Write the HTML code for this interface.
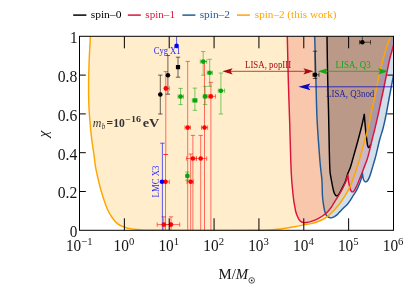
<!DOCTYPE html>
<html><head><meta charset="utf-8"><title>chart</title>
<style>html,body{margin:0;padding:0;background:#fff;}body{width:411px;height:288px;overflow:hidden;position:relative;font-family:"Liberation Serif",serif;}</style>
</head><body>
<svg width="411" height="288" viewBox="0 0 411 288" style="position:absolute;left:0;top:0;will-change:transform;font-family:'Liberation Serif',serif">
<defs><clipPath id="cp"><rect x="79.50" y="36.30" width="314.00" height="194.00"/></clipPath></defs>
<rect width="411" height="288" fill="#fff"/>
<g clip-path="url(#cp)">
<path d="M327.00,36.30 C327.12,43.58 327.45,67.72 327.70,80.00 C327.95,92.28 328.23,98.33 328.50,110.00 C328.77,121.67 329.07,140.00 329.30,150.00 C329.53,160.00 329.65,165.52 329.90,170.00 C330.15,174.48 330.49,174.90 330.80,176.90 C331.11,178.90 331.45,180.37 331.75,182.00 C332.05,183.63 332.26,185.08 332.60,186.70 C332.94,188.32 333.38,190.38 333.80,191.70 C334.22,193.02 334.63,193.90 335.10,194.60 C335.57,195.30 336.07,195.85 336.60,195.90 C337.13,195.95 337.75,195.47 338.30,194.90 C338.85,194.33 339.25,193.63 339.90,192.50 C340.55,191.37 341.40,189.67 342.20,188.10 C343.00,186.53 344.03,184.60 344.70,183.10 C345.37,181.60 345.72,180.62 346.20,179.10 C346.68,177.58 346.88,176.02 347.60,174.00 C348.32,171.98 349.40,170.33 350.50,167.00 C351.60,163.67 352.93,158.50 354.20,154.00 C355.47,149.50 356.92,144.37 358.10,140.00 C359.28,135.63 360.48,131.05 361.30,127.80 C362.12,124.55 362.50,122.82 363.00,120.50 C363.50,118.18 364.08,115.00 364.30,113.90 C364.42,115.52 364.70,120.13 365.00,123.60 C365.30,127.07 365.80,131.97 366.10,134.70 C366.40,137.43 366.57,138.28 366.80,140.00 C367.03,141.72 367.22,143.73 367.50,145.00 C367.78,146.27 368.12,147.35 368.50,147.60 C368.88,147.85 369.42,147.07 369.80,146.50 C370.18,145.93 370.43,145.28 370.80,144.20 C371.17,143.12 371.28,142.73 372.00,140.00 C372.72,137.27 374.05,132.15 375.10,127.80 C376.15,123.45 377.33,118.28 378.30,113.90 C379.27,109.52 380.05,105.48 380.90,101.50 C381.75,97.52 382.52,94.25 383.40,90.00 C384.28,85.75 385.40,80.00 386.20,76.00 C387.00,72.00 387.57,69.03 388.20,66.00 C388.83,62.97 389.37,60.33 390.00,57.80 C390.63,55.27 391.42,52.88 392.00,50.80 C392.58,48.72 393.25,46.22 393.50,45.30 L393.50,36.30 L327.00,36.30 Z" fill="#000" fill-opacity="0.2"/>
<path d="M287.30,36.30 C287.47,43.58 287.92,66.05 288.30,80.00 C288.68,93.95 289.18,106.38 289.60,120.00 C290.02,133.62 290.45,151.70 290.80,161.70 C291.15,171.70 291.32,174.45 291.70,180.00 C292.08,185.55 292.76,191.57 293.10,195.00 C293.44,198.43 293.48,198.75 293.75,200.60 C294.02,202.45 294.36,204.25 294.70,206.10 C295.04,207.95 295.38,210.08 295.80,211.70 C296.22,213.32 296.68,214.53 297.20,215.80 C297.72,217.07 298.25,218.32 298.90,219.30 C299.55,220.28 300.33,221.15 301.10,221.70 C301.87,222.25 302.64,222.47 303.50,222.60 C304.36,222.73 305.07,222.67 306.25,222.50 C307.43,222.33 308.96,222.08 310.60,221.60 C312.24,221.12 314.25,220.45 316.10,219.60 C317.95,218.75 319.85,217.73 321.70,216.50 C323.55,215.27 325.57,213.78 327.20,212.20 C328.83,210.62 330.53,208.32 331.50,207.00 C332.47,205.68 332.20,205.60 333.00,204.30 C333.80,203.00 335.18,200.96 336.30,199.20 C337.42,197.44 338.65,195.57 339.70,193.75 C340.75,191.93 341.70,190.04 342.60,188.30 C343.50,186.56 344.43,184.75 345.10,183.30 C345.77,181.85 346.13,181.08 346.60,179.60 C347.07,178.12 347.68,175.27 347.90,174.40 C348.00,175.47 348.18,178.62 348.50,180.80 C348.82,182.98 349.43,185.90 349.80,187.50 C350.17,189.10 350.27,189.67 350.70,190.40 C351.13,191.13 351.78,191.92 352.40,191.90 C353.02,191.88 353.67,191.33 354.40,190.30 C355.13,189.27 356.05,187.28 356.80,185.70 C357.55,184.12 358.13,182.65 358.90,180.80 C359.67,178.95 360.59,176.68 361.40,174.60 C362.21,172.52 362.83,170.73 363.75,168.30 C364.67,165.87 366.07,162.40 366.90,160.00 C367.72,157.60 367.85,157.23 368.70,153.90 C369.55,150.57 370.93,144.35 372.00,140.00 C373.07,135.65 374.05,132.15 375.10,127.80 C376.15,123.45 377.33,118.28 378.30,113.90 C379.27,109.52 380.05,105.48 380.90,101.50 C381.75,97.52 382.52,94.25 383.40,90.00 C384.28,85.75 385.40,80.00 386.20,76.00 C387.00,72.00 387.57,69.03 388.20,66.00 C388.83,62.97 389.37,60.33 390.00,57.80 C390.63,55.27 391.42,52.88 392.00,50.80 C392.58,48.72 393.25,46.22 393.50,45.30 L393.50,36.30 L287.30,36.30 Z" fill="#dc143c" fill-opacity="0.2"/>
<path d="M314.70,36.30 C314.90,43.58 315.50,66.05 315.90,80.00 C316.30,93.95 316.42,106.38 317.10,120.00 C317.78,133.62 319.20,151.70 320.00,161.70 C320.80,171.70 321.50,174.45 321.90,180.00 C322.30,185.55 322.20,191.35 322.40,195.00 C322.60,198.65 322.80,199.58 323.10,201.90 C323.40,204.22 323.75,206.82 324.20,208.90 C324.65,210.98 325.18,213.07 325.80,214.40 C326.42,215.73 327.08,216.32 327.90,216.90 C328.72,217.48 329.77,217.85 330.70,217.90 C331.63,217.95 332.47,217.70 333.50,217.20 C334.53,216.70 335.75,215.90 336.90,214.90 C338.05,213.90 339.22,212.43 340.40,211.20 C341.58,209.97 342.80,208.70 344.00,207.50 C345.20,206.30 346.52,205.25 347.60,204.00 C348.68,202.75 349.55,201.43 350.50,200.00 C351.45,198.57 352.25,197.08 353.30,195.40 C354.35,193.72 355.75,191.87 356.80,189.90 C357.85,187.93 358.83,185.57 359.60,183.60 C360.37,181.63 360.93,179.90 361.40,178.10 C361.87,176.30 362.23,173.68 362.40,172.80 C362.52,173.68 362.77,176.72 363.10,178.10 C363.43,179.48 363.95,180.47 364.40,181.10 C364.85,181.73 365.28,181.95 365.80,181.90 C366.32,181.85 366.92,181.55 367.50,180.80 C368.08,180.05 368.68,178.90 369.30,177.40 C369.92,175.90 370.58,173.77 371.20,171.80 C371.82,169.83 372.42,167.57 373.00,165.60 C373.58,163.63 374.15,161.95 374.70,160.00 C375.25,158.05 375.48,157.23 376.30,153.90 C377.12,150.57 378.45,144.35 379.60,140.00 C380.75,135.65 382.09,132.15 383.20,127.80 C384.31,123.45 385.32,118.53 386.25,113.90 C387.18,109.27 387.97,104.48 388.80,100.00 C389.63,95.52 390.47,91.13 391.25,87.00 C392.03,82.87 393.12,77.17 393.50,75.20 L393.50,36.30 L314.70,36.30 Z" fill="#1e5a96" fill-opacity="0.2"/>
<path d="M90.40,36.30 C90.20,40.25 89.50,52.05 89.20,60.00 C88.90,67.95 88.63,76.00 88.60,84.00 C88.57,92.00 88.55,99.40 89.00,108.00 C89.45,116.60 90.47,127.77 91.30,135.60 C92.13,143.43 93.32,149.92 94.00,155.00 C94.68,160.08 94.78,162.40 95.40,166.10 C96.02,169.80 96.87,173.50 97.70,177.20 C98.53,180.90 99.38,184.60 100.40,188.30 C101.42,192.00 102.63,195.92 103.80,199.40 C104.97,202.88 106.02,206.18 107.40,209.20 C108.78,212.22 110.38,215.05 112.10,217.50 C113.82,219.95 115.62,222.28 117.70,223.90 C119.78,225.52 122.28,226.37 124.60,227.20 C126.92,228.03 129.05,228.47 131.60,228.90 C134.15,229.33 135.83,229.57 139.90,229.80 C143.97,230.03 145.98,230.20 156.00,230.30 C166.02,230.40 182.67,230.42 200.00,230.40 C217.33,230.38 247.50,230.35 260.00,230.20 C272.50,230.05 271.35,229.73 275.00,229.50 C278.65,229.27 279.58,229.08 281.90,228.80 C284.22,228.52 286.58,228.18 288.90,227.80 C291.22,227.42 293.48,226.95 295.80,226.50 C298.12,226.05 300.33,225.58 302.80,225.10 C305.27,224.62 308.38,224.08 310.60,223.60 C312.82,223.12 314.25,222.80 316.10,222.20 C317.95,221.60 319.85,220.93 321.70,220.00 C323.55,219.07 325.35,218.00 327.20,216.60 C329.05,215.20 330.80,213.67 332.80,211.60 C334.80,209.53 337.57,206.23 339.20,204.20 C340.83,202.17 341.48,201.05 342.60,199.40 C343.72,197.75 344.87,196.00 345.90,194.30 C346.93,192.60 347.93,190.92 348.80,189.20 C349.67,187.48 350.30,185.97 351.10,184.00 C351.90,182.03 352.82,179.57 353.60,177.40 C354.38,175.23 355.10,173.08 355.80,171.00 C356.50,168.92 357.20,166.73 357.80,164.90 C358.40,163.07 358.87,161.83 359.40,160.00 C359.93,158.17 360.10,157.23 361.00,153.90 C361.90,150.57 363.60,144.35 364.80,140.00 C366.00,135.65 367.17,132.15 368.20,127.80 C369.23,123.45 370.07,118.28 371.00,113.90 C371.93,109.52 372.93,105.48 373.80,101.50 C374.67,97.52 375.33,94.25 376.20,90.00 C377.07,85.75 377.98,80.67 379.00,76.00 C380.02,71.33 381.17,66.33 382.30,62.00 C383.43,57.67 384.92,53.00 385.80,50.00 C386.68,47.00 386.90,46.07 387.60,44.00 C388.30,41.93 389.50,38.88 390.00,37.60 C390.50,36.32 390.50,36.52 390.60,36.30 L90.40,36.30 Z" fill="#ffa500" fill-opacity="0.2"/>
<path d="M327.00,36.30 C327.12,43.58 327.45,67.72 327.70,80.00 C327.95,92.28 328.23,98.33 328.50,110.00 C328.77,121.67 329.07,140.00 329.30,150.00 C329.53,160.00 329.65,165.52 329.90,170.00 C330.15,174.48 330.49,174.90 330.80,176.90 C331.11,178.90 331.45,180.37 331.75,182.00 C332.05,183.63 332.26,185.08 332.60,186.70 C332.94,188.32 333.38,190.38 333.80,191.70 C334.22,193.02 334.63,193.90 335.10,194.60 C335.57,195.30 336.07,195.85 336.60,195.90 C337.13,195.95 337.75,195.47 338.30,194.90 C338.85,194.33 339.25,193.63 339.90,192.50 C340.55,191.37 341.40,189.67 342.20,188.10 C343.00,186.53 344.03,184.60 344.70,183.10 C345.37,181.60 345.72,180.62 346.20,179.10 C346.68,177.58 346.88,176.02 347.60,174.00 C348.32,171.98 349.40,170.33 350.50,167.00 C351.60,163.67 352.93,158.50 354.20,154.00 C355.47,149.50 356.92,144.37 358.10,140.00 C359.28,135.63 360.48,131.05 361.30,127.80 C362.12,124.55 362.50,122.82 363.00,120.50 C363.50,118.18 364.08,115.00 364.30,113.90 C364.42,115.52 364.70,120.13 365.00,123.60 C365.30,127.07 365.80,131.97 366.10,134.70 C366.40,137.43 366.57,138.28 366.80,140.00 C367.03,141.72 367.22,143.73 367.50,145.00 C367.78,146.27 368.12,147.35 368.50,147.60 C368.88,147.85 369.42,147.07 369.80,146.50 C370.18,145.93 370.63,144.58 370.80,144.20 " fill="none" stroke="#000" stroke-width="1.45"/>
<path d="M287.30,36.30 C287.47,43.58 287.92,66.05 288.30,80.00 C288.68,93.95 289.18,106.38 289.60,120.00 C290.02,133.62 290.45,151.70 290.80,161.70 C291.15,171.70 291.32,174.45 291.70,180.00 C292.08,185.55 292.76,191.57 293.10,195.00 C293.44,198.43 293.48,198.75 293.75,200.60 C294.02,202.45 294.36,204.25 294.70,206.10 C295.04,207.95 295.38,210.08 295.80,211.70 C296.22,213.32 296.68,214.53 297.20,215.80 C297.72,217.07 298.25,218.32 298.90,219.30 C299.55,220.28 300.33,221.15 301.10,221.70 C301.87,222.25 302.64,222.47 303.50,222.60 C304.36,222.73 305.07,222.67 306.25,222.50 C307.43,222.33 308.96,222.08 310.60,221.60 C312.24,221.12 314.25,220.45 316.10,219.60 C317.95,218.75 319.85,217.73 321.70,216.50 C323.55,215.27 325.57,213.78 327.20,212.20 C328.83,210.62 330.53,208.32 331.50,207.00 C332.47,205.68 332.20,205.60 333.00,204.30 C333.80,203.00 335.18,200.96 336.30,199.20 C337.42,197.44 338.65,195.57 339.70,193.75 C340.75,191.93 341.70,190.04 342.60,188.30 C343.50,186.56 344.43,184.75 345.10,183.30 C345.77,181.85 346.13,181.08 346.60,179.60 C347.07,178.12 347.68,175.27 347.90,174.40 C348.00,175.47 348.18,178.62 348.50,180.80 C348.82,182.98 349.43,185.90 349.80,187.50 C350.17,189.10 350.27,189.67 350.70,190.40 C351.13,191.13 351.78,191.92 352.40,191.90 C353.02,191.88 353.67,191.33 354.40,190.30 C355.13,189.27 356.05,187.28 356.80,185.70 C357.55,184.12 358.13,182.65 358.90,180.80 C359.67,178.95 360.59,176.68 361.40,174.60 C362.21,172.52 362.83,170.73 363.75,168.30 C364.67,165.87 366.07,162.40 366.90,160.00 C367.72,157.60 367.85,157.23 368.70,153.90 C369.55,150.57 370.93,144.35 372.00,140.00 C373.07,135.65 374.05,132.15 375.10,127.80 C376.15,123.45 377.33,118.28 378.30,113.90 C379.27,109.52 380.05,105.48 380.90,101.50 C381.75,97.52 382.52,94.25 383.40,90.00 C384.28,85.75 385.40,80.00 386.20,76.00 C387.00,72.00 387.57,69.03 388.20,66.00 C388.83,62.97 389.37,60.33 390.00,57.80 C390.63,55.27 391.42,52.88 392.00,50.80 C392.58,48.72 393.25,46.22 393.50,45.30 " fill="none" stroke="#dc143c" stroke-width="1.45"/>
<path d="M314.70,36.30 C314.90,43.58 315.50,66.05 315.90,80.00 C316.30,93.95 316.42,106.38 317.10,120.00 C317.78,133.62 319.20,151.70 320.00,161.70 C320.80,171.70 321.50,174.45 321.90,180.00 C322.30,185.55 322.20,191.35 322.40,195.00 C322.60,198.65 322.80,199.58 323.10,201.90 C323.40,204.22 323.75,206.82 324.20,208.90 C324.65,210.98 325.18,213.07 325.80,214.40 C326.42,215.73 327.08,216.32 327.90,216.90 C328.72,217.48 329.77,217.85 330.70,217.90 C331.63,217.95 332.47,217.70 333.50,217.20 C334.53,216.70 335.75,215.90 336.90,214.90 C338.05,213.90 339.22,212.43 340.40,211.20 C341.58,209.97 342.80,208.70 344.00,207.50 C345.20,206.30 346.52,205.25 347.60,204.00 C348.68,202.75 349.55,201.43 350.50,200.00 C351.45,198.57 352.25,197.08 353.30,195.40 C354.35,193.72 355.75,191.87 356.80,189.90 C357.85,187.93 358.83,185.57 359.60,183.60 C360.37,181.63 360.93,179.90 361.40,178.10 C361.87,176.30 362.23,173.68 362.40,172.80 C362.52,173.68 362.77,176.72 363.10,178.10 C363.43,179.48 363.95,180.47 364.40,181.10 C364.85,181.73 365.28,181.95 365.80,181.90 C366.32,181.85 366.92,181.55 367.50,180.80 C368.08,180.05 368.68,178.90 369.30,177.40 C369.92,175.90 370.58,173.77 371.20,171.80 C371.82,169.83 372.42,167.57 373.00,165.60 C373.58,163.63 374.15,161.95 374.70,160.00 C375.25,158.05 375.48,157.23 376.30,153.90 C377.12,150.57 378.45,144.35 379.60,140.00 C380.75,135.65 382.09,132.15 383.20,127.80 C384.31,123.45 385.32,118.53 386.25,113.90 C387.18,109.27 387.97,104.48 388.80,100.00 C389.63,95.52 390.47,91.13 391.25,87.00 C392.03,82.87 393.12,77.17 393.50,75.20 " fill="none" stroke="#1e5a96" stroke-width="1.45"/>
<path d="M90.40,36.30 C90.20,40.25 89.50,52.05 89.20,60.00 C88.90,67.95 88.63,76.00 88.60,84.00 C88.57,92.00 88.55,99.40 89.00,108.00 C89.45,116.60 90.47,127.77 91.30,135.60 C92.13,143.43 93.32,149.92 94.00,155.00 C94.68,160.08 94.78,162.40 95.40,166.10 C96.02,169.80 96.87,173.50 97.70,177.20 C98.53,180.90 99.38,184.60 100.40,188.30 C101.42,192.00 102.63,195.92 103.80,199.40 C104.97,202.88 106.02,206.18 107.40,209.20 C108.78,212.22 110.38,215.05 112.10,217.50 C113.82,219.95 115.62,222.28 117.70,223.90 C119.78,225.52 122.28,226.37 124.60,227.20 C126.92,228.03 129.05,228.47 131.60,228.90 C134.15,229.33 135.83,229.57 139.90,229.80 C143.97,230.03 145.98,230.20 156.00,230.30 C166.02,230.40 182.67,230.42 200.00,230.40 C217.33,230.38 247.50,230.35 260.00,230.20 C272.50,230.05 271.35,229.73 275.00,229.50 C278.65,229.27 279.58,229.08 281.90,228.80 C284.22,228.52 286.58,228.18 288.90,227.80 C291.22,227.42 293.48,226.95 295.80,226.50 C298.12,226.05 300.33,225.58 302.80,225.10 C305.27,224.62 308.38,224.08 310.60,223.60 C312.82,223.12 314.25,222.80 316.10,222.20 C317.95,221.60 319.85,220.93 321.70,220.00 C323.55,219.07 325.35,218.00 327.20,216.60 C329.05,215.20 330.80,213.67 332.80,211.60 C334.80,209.53 337.57,206.23 339.20,204.20 C340.83,202.17 341.48,201.05 342.60,199.40 C343.72,197.75 344.87,196.00 345.90,194.30 C346.93,192.60 347.93,190.92 348.80,189.20 C349.67,187.48 350.30,185.97 351.10,184.00 C351.90,182.03 352.82,179.57 353.60,177.40 C354.38,175.23 355.10,173.08 355.80,171.00 C356.50,168.92 357.20,166.73 357.80,164.90 C358.40,163.07 358.87,161.83 359.40,160.00 C359.93,158.17 360.10,157.23 361.00,153.90 C361.90,150.57 363.60,144.35 364.80,140.00 C366.00,135.65 367.17,132.15 368.20,127.80 C369.23,123.45 370.07,118.28 371.00,113.90 C371.93,109.52 372.93,105.48 373.80,101.50 C374.67,97.52 375.33,94.25 376.20,90.00 C377.07,85.75 377.98,80.67 379.00,76.00 C380.02,71.33 381.17,66.33 382.30,62.00 C383.43,57.67 384.92,53.00 385.80,50.00 C386.68,47.00 386.90,46.07 387.60,44.00 C388.30,41.93 389.50,38.88 390.00,37.60 C390.50,36.32 390.50,36.52 390.60,36.30 " fill="none" stroke="#ffa500" stroke-width="1.45"/>
</g>
<g clip-path="url(#cp)">
<g stroke="#ff0000" stroke-opacity="0.62" stroke-width="0.9" fill="none"><path d="M165.80,71.60 V154.50" /><path d="M163.60,71.60 H168.00"/><path d="M163.60,154.50 H168.00"/><path d="M165.80,88.40 H169.30"/><path d="M165.80,86.20 V90.60"/><path d="M169.30,86.20 V90.60"/></g>
<g stroke="#ff0000" stroke-opacity="0.62" stroke-width="0.9" fill="none"><path d="M165.50,154.50 V230.30" /><path d="M163.30,154.50 H167.70"/><path d="M165.50,181.80 H169.30"/><path d="M165.50,179.60 V184.00"/><path d="M169.30,179.60 V184.00"/></g>
<g stroke="#ff0000" stroke-opacity="0.62" stroke-width="0.9" fill="none"><path d="M163.75,216.80 V230.30" /><path d="M161.55,216.80 H165.95"/><path d="M157.20,224.60 H170.00"/><path d="M157.20,222.40 V226.80"/><path d="M170.00,222.40 V226.80"/></g>
<g stroke="#ff0000" stroke-opacity="0.62" stroke-width="0.9" fill="none"><path d="M171.00,216.80 V230.30" /><path d="M168.80,216.80 H173.20"/><path d="M165.00,224.60 H179.70"/><path d="M165.00,222.40 V226.80"/><path d="M179.70,222.40 V226.80"/></g>
<g stroke="#ff0000" stroke-opacity="0.62" stroke-width="0.9" fill="none"><path d="M187.70,61.40 V230.30" /><path d="M185.50,61.40 H189.90"/><path d="M185.00,127.60 H190.50"/><path d="M185.00,125.40 V129.80"/><path d="M190.50,125.40 V129.80"/></g>
<g stroke="#ff0000" stroke-opacity="0.62" stroke-width="0.9" fill="none"><path d="M192.90,135.40 V230.30" /><path d="M190.70,135.40 H195.10"/><path d="M186.40,158.50 H196.30"/><path d="M186.40,156.30 V160.70"/><path d="M196.30,156.30 V160.70"/></g>
<g stroke="#ff0000" stroke-opacity="0.62" stroke-width="0.9" fill="none"><path d="M190.70,154.00 V230.30" /><path d="M188.50,154.00 H192.90"/><path d="M187.00,181.80 H193.30"/><path d="M187.00,179.60 V184.00"/><path d="M193.30,179.60 V184.00"/></g>
<g stroke="#ff0000" stroke-opacity="0.62" stroke-width="0.9" fill="none"><path d="M200.70,135.40 V230.30" /><path d="M198.50,135.40 H202.90"/><path d="M196.30,158.50 H206.70"/><path d="M196.30,156.30 V160.70"/><path d="M206.70,156.30 V160.70"/></g>
<g stroke="#ff0000" stroke-opacity="0.62" stroke-width="0.9" fill="none"><path d="M204.50,61.40 V230.30" /><path d="M202.30,61.40 H206.70"/><path d="M201.50,127.60 H207.60"/><path d="M201.50,125.40 V129.80"/><path d="M207.60,125.40 V129.80"/></g>
<g stroke="#ff0000" stroke-opacity="0.62" stroke-width="0.9" fill="none"><path d="M210.90,82.30 V230.30" /><path d="M208.70,82.30 H213.10"/><path d="M208.40,96.40 H215.40"/><path d="M208.40,94.20 V98.60"/><path d="M215.40,94.20 V98.60"/></g>
<g stroke="#0aa50a" stroke-opacity="0.6" stroke-width="0.9" fill="none"><path d="M180.60,88.40 V104.60" /><path d="M178.40,88.40 H182.80"/><path d="M178.40,104.60 H182.80"/><path d="M178.00,96.60 H183.50"/><path d="M178.00,94.40 V98.80"/><path d="M183.50,94.40 V98.80"/></g>
<g stroke="#0aa50a" stroke-opacity="0.6" stroke-width="0.9" fill="none"><path d="M194.90,88.10 V110.30" /><path d="M192.70,88.10 H197.10"/><path d="M192.70,110.30 H197.10"/><path d="M192.30,100.40 H197.20"/><path d="M192.30,98.20 V102.60"/><path d="M197.20,98.20 V102.60"/></g>
<g stroke="#0aa50a" stroke-opacity="0.6" stroke-width="0.9" fill="none"><path d="M203.20,51.50 V75.20" /><path d="M201.00,51.50 H205.40"/><path d="M201.00,75.20 H205.40"/><path d="M200.30,61.60 H206.70"/><path d="M200.30,59.40 V63.80"/><path d="M206.70,59.40 V63.80"/></g>
<g stroke="#0aa50a" stroke-opacity="0.6" stroke-width="0.9" fill="none"><path d="M209.70,59.30 V86.30" /><path d="M207.50,59.30 H211.90"/><path d="M207.50,86.30 H211.90"/><path d="M207.20,72.80 H212.40"/><path d="M207.20,70.60 V75.00"/><path d="M212.40,70.60 V75.00"/></g>
<g stroke="#0aa50a" stroke-opacity="0.6" stroke-width="0.9" fill="none"><path d="M205.10,86.40 V104.60" /><path d="M202.90,86.40 H207.30"/><path d="M202.90,104.60 H207.30"/><path d="M203.20,96.40 H207.20"/><path d="M203.20,94.20 V98.60"/><path d="M207.20,94.20 V98.60"/></g>
<g stroke="#0aa50a" stroke-opacity="0.6" stroke-width="0.9" fill="none"><path d="M220.90,73.00 V114.00" /><path d="M218.70,73.00 H223.10"/><path d="M218.70,114.00 H223.10"/><path d="M218.30,90.70 H224.60"/><path d="M218.30,88.50 V92.90"/><path d="M224.60,88.50 V92.90"/></g>
<g stroke="#0aa50a" stroke-opacity="0.6" stroke-width="0.9" fill="none"><path d="M187.40,172.00 V180.20" /><path d="M185.20,172.00 H189.60"/><path d="M185.20,180.20 H189.60"/><path d="M186.00,175.90 H188.80"/><path d="M186.00,173.70 V178.10"/><path d="M188.80,173.70 V178.10"/></g>
<g stroke="#000" stroke-opacity="0.65" stroke-width="0.9" fill="none"><path d="M160.30,75.10 V114.00" /><path d="M158.10,75.10 H162.50"/><path d="M158.10,114.00 H162.50"/></g>
<g stroke="#000" stroke-opacity="0.65" stroke-width="0.9" fill="none"><path d="M167.90,55.50 V94.20" /><path d="M165.70,55.50 H170.10"/><path d="M165.70,94.20 H170.10"/></g>
<g stroke="#000" stroke-opacity="0.65" stroke-width="0.9" fill="none"><path d="M178.00,57.20 V77.20" /><path d="M175.80,57.20 H180.20"/><path d="M175.80,77.20 H180.20"/></g>
<g stroke="#000" stroke-opacity="0.65" stroke-width="0.9" fill="none"><path d="M315.00,51.20 V78.50" /><path d="M312.80,51.20 H317.20"/><path d="M312.80,78.50 H317.20"/><path d="M313.00,74.80 H319.00"/><path d="M313.00,72.60 V77.00"/><path d="M319.00,72.60 V77.00"/></g>
<g stroke="#000" stroke-opacity="0.65" stroke-width="0.9" fill="none"><path d="M362.30,36.30 V42.20" /><path d="M359.60,42.20 H370.50"/><path d="M359.60,40.00 V44.40"/><path d="M370.50,40.00 V44.40"/></g>
<path d="M176.6,36.30 V45.9" stroke="#0000ff" stroke-opacity="0.7" stroke-width="0.9"/>
<path d="M162.4,143.2 V230.30 M160.2,143.2 H164.6" stroke="#0000ff" stroke-opacity="0.62" stroke-width="1" fill="none"/>
<circle cx="165.80" cy="88.40" r="2.30" fill="#ff0000"/>
<circle cx="165.50" cy="181.80" r="2.30" fill="#ff0000"/>
<circle cx="163.75" cy="224.60" r="2.30" fill="#ff0000"/>
<circle cx="171.00" cy="224.60" r="2.30" fill="#ff0000"/>
<circle cx="187.70" cy="127.60" r="2.30" fill="#ff0000"/>
<circle cx="192.90" cy="158.50" r="2.30" fill="#ff0000"/>
<circle cx="190.70" cy="181.80" r="2.30" fill="#ff0000"/>
<circle cx="200.70" cy="158.50" r="2.30" fill="#ff0000"/>
<circle cx="204.50" cy="127.60" r="2.30" fill="#ff0000"/>
<circle cx="210.90" cy="96.40" r="2.30" fill="#ff0000"/>
<circle cx="180.60" cy="96.60" r="2.30" fill="#0aa50a"/>
<rect x="192.80" y="98.30" width="4.20" height="4.20" fill="#0aa50a"/>
<circle cx="203.20" cy="61.60" r="2.30" fill="#0aa50a"/>
<circle cx="209.70" cy="72.80" r="2.30" fill="#0aa50a"/>
<circle cx="205.10" cy="96.40" r="2.30" fill="#0aa50a"/>
<circle cx="220.90" cy="90.70" r="2.30" fill="#0aa50a"/>
<circle cx="187.40" cy="175.90" r="2.30" fill="#0aa50a"/>
<circle cx="160.30" cy="94.50" r="2.30" fill="#000"/>
<circle cx="167.90" cy="75.20" r="2.30" fill="#000"/>
<rect x="175.90" y="65.00" width="4.20" height="4.20" fill="#000"/>
<circle cx="315.00" cy="74.80" r="2.30" fill="#000"/>
<circle cx="362.30" cy="42.20" r="2.30" fill="#000"/>
<circle cx="176.60" cy="45.90" r="2.30" fill="#0000ff"/>
<circle cx="162.00" cy="181.80" r="2.30" fill="#0000ff"/>
</g>
<path d="M228,71.3 H308" stroke="#a60a0a" stroke-width="0.75"/>
<path d="M222.40,71.30 L232.60,68.20 L230.56,71.30 L232.60,74.40 Z" fill="#a60a0a"/>
<path d="M313.60,71.30 L303.40,68.20 L305.44,71.30 L303.40,74.40 Z" fill="#a60a0a"/>
<path d="M324,71.3 H382" stroke="#12a812" stroke-width="0.75"/>
<path d="M317.60,71.30 L327.80,68.20 L325.76,71.30 L327.80,74.40 Z" fill="#12a812"/>
<path d="M388.30,71.30 L378.10,68.20 L380.14,71.30 L378.10,74.40 Z" fill="#12a812"/>
<path d="M305,86.8 H393.50" stroke="#0808c0" stroke-width="0.75"/>
<path d="M298.40,86.80 L310.40,83.40 L308.00,86.80 L310.40,90.20 Z" fill="#0808c0"/>
<g stroke="#000" stroke-width="1" fill="none">
<rect x="79.50" y="36.30" width="314.00" height="194.00"/>
<path d="M124.36,36.30 v12 M124.36,230.30 v-12"/>
<path d="M169.21,36.30 v12 M169.21,230.30 v-12"/>
<path d="M214.07,36.30 v12 M214.07,230.30 v-12"/>
<path d="M258.93,36.30 v12 M258.93,230.30 v-12"/>
<path d="M303.79,36.30 v12 M303.79,230.30 v-12"/>
<path d="M348.64,36.30 v12 M348.64,230.30 v-12"/>
<path d="M79.50,191.50 h6.3 M393.50,191.50 h-6.3"/>
<path d="M79.50,152.70 h6.3 M393.50,152.70 h-6.3"/>
<path d="M79.50,113.90 h6.3 M393.50,113.90 h-6.3"/>
<path d="M79.50,75.10 h6.3 M393.50,75.10 h-6.3"/>
</g>
<g font-size="16.2px" fill="#151515" text-anchor="start">
<text x="69.80" y="237.20" textLength="7.6" lengthAdjust="spacingAndGlyphs">0</text>
<text x="57.7" y="198.40" textLength="19.6" lengthAdjust="spacingAndGlyphs">0.2</text>
<text x="57.7" y="159.60" textLength="19.6" lengthAdjust="spacingAndGlyphs">0.4</text>
<text x="57.7" y="120.80" textLength="19.6" lengthAdjust="spacingAndGlyphs">0.6</text>
<text x="57.7" y="82.00" textLength="19.6" lengthAdjust="spacingAndGlyphs">0.8</text>
<text x="70.00" y="43.20" textLength="7.6" lengthAdjust="spacingAndGlyphs">1</text>
</g>
<g font-size="16.2px" fill="#151515" text-anchor="start">
<text x="65.90" y="251.0" textLength="26.6" lengthAdjust="spacingAndGlyphs">10<tspan font-size="11.3px" dy="-6.4">−1</tspan></text>
<text x="113.61" y="251.0" textLength="20.7" lengthAdjust="spacingAndGlyphs">10<tspan font-size="11.3px" dy="-6.4">0</tspan></text>
<text x="158.46" y="251.0" textLength="20.7" lengthAdjust="spacingAndGlyphs">10<tspan font-size="11.3px" dy="-6.4">1</tspan></text>
<text x="203.32" y="251.0" textLength="20.7" lengthAdjust="spacingAndGlyphs">10<tspan font-size="11.3px" dy="-6.4">2</tspan></text>
<text x="248.18" y="251.0" textLength="20.7" lengthAdjust="spacingAndGlyphs">10<tspan font-size="11.3px" dy="-6.4">3</tspan></text>
<text x="293.04" y="251.0" textLength="20.7" lengthAdjust="spacingAndGlyphs">10<tspan font-size="11.3px" dy="-6.4">4</tspan></text>
<text x="337.89" y="251.0" textLength="20.7" lengthAdjust="spacingAndGlyphs">10<tspan font-size="11.3px" dy="-6.4">5</tspan></text>
<text x="382.75" y="251.0" textLength="20.7" lengthAdjust="spacingAndGlyphs">10<tspan font-size="11.3px" dy="-6.4">6</tspan></text>
</g>
<text x="218.5" y="278.7" font-size="15.6px" fill="#151515" textLength="29.6" lengthAdjust="spacingAndGlyphs">M/<tspan font-style="italic">M</tspan></text>
<circle cx="251.7" cy="280.4" r="2.8" fill="none" stroke="#151515" stroke-width="0.7"/><circle cx="251.7" cy="280.4" r="0.85" fill="#151515"/>
<text transform="translate(47.6,133.9) rotate(-90)" font-size="15px" font-style="italic" fill="#151515" text-anchor="middle">χ</text>
<path d="M73.20,15.1 H86.40" stroke="#000" stroke-width="1.5"/>
<text x="90.70" y="18.1" font-size="10px" fill="#000" textLength="30.7" lengthAdjust="spacingAndGlyphs">spin–0</text>
<path d="M127.80,15.1 H140.80" stroke="#dc143c" stroke-width="1.5"/>
<text x="145.30" y="18.1" font-size="10px" fill="#dc143c" textLength="29.7" lengthAdjust="spacingAndGlyphs">spin–1</text>
<path d="M182.40,15.1 H195.40" stroke="#1e5a96" stroke-width="1.5"/>
<text x="199.70" y="18.1" font-size="10px" fill="#1e5a96" textLength="30.3" lengthAdjust="spacingAndGlyphs">spin–2</text>
<path d="M237.00,15.1 H249.90" stroke="#ffa500" stroke-width="1.5"/>
<text x="254.80" y="18.1" font-size="10px" fill="#ffa500" textLength="81.8" lengthAdjust="spacingAndGlyphs">spin–2 (this work)</text>
<text x="245" y="68.3" font-size="9.6px" fill="#a60a0a" textLength="46.2" lengthAdjust="spacingAndGlyphs">LISA, popIII</text>
<text x="335.5" y="68.3" font-size="9.6px" fill="#12a812" textLength="35.3" lengthAdjust="spacingAndGlyphs">LISA, Q3</text>
<text x="326.1" y="97.1" font-size="9.6px" fill="#2020a0" textLength="48.2" lengthAdjust="spacingAndGlyphs">LISA, Q3nod</text>
<text x="153.7" y="53.8" font-size="9.4px" fill="#2a2aff" textLength="26.9" lengthAdjust="spacingAndGlyphs">Cyg X1</text>
<text transform="translate(158.9,197.4) rotate(-90)" font-size="9.4px" fill="#2a2aff" textLength="31.7" lengthAdjust="spacingAndGlyphs">LMC X3</text>
<g fill="#333" font-size="12px">
<text x="92.8" y="127.2" font-style="italic" textLength="8.6" lengthAdjust="spacingAndGlyphs">m</text>
<text x="101.7" y="129.4" font-style="italic" font-size="8.5px" textLength="3.5" lengthAdjust="spacingAndGlyphs">b</text>
<text x="106.6" y="127.2" font-weight="bold" textLength="18.2" lengthAdjust="spacingAndGlyphs">=10</text>
<text x="125.3" y="122.4" font-weight="bold" font-size="8.5px" textLength="15.8" lengthAdjust="spacingAndGlyphs">−16</text>
<text x="142.8" y="127.2" font-weight="bold" textLength="16.6" lengthAdjust="spacingAndGlyphs">eV</text>
</g>
</svg>
</body></html>
